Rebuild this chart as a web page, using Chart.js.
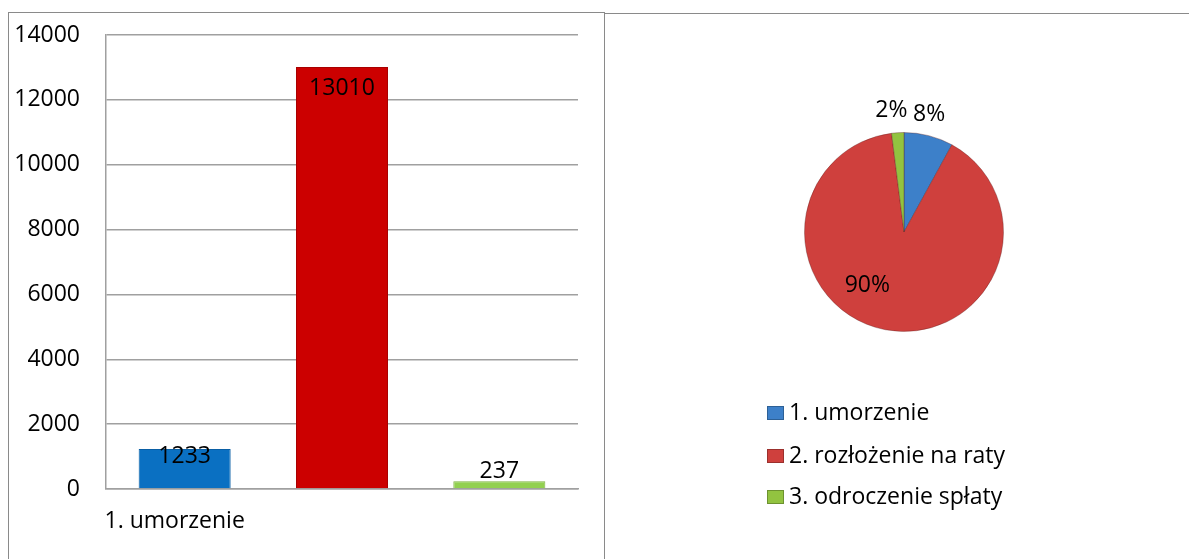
<!DOCTYPE html>
<html><head><meta charset="utf-8">
<script src="https://cdn.jsdelivr.net/npm/chart.js@4.4.0/dist/chart.umd.min.js"></script>
<style>
html,body{margin:0;padding:0;background:#fff;}
body{width:1189px;height:559px;overflow:hidden;position:relative;font-family:"Open Sans",sans-serif}
#box1{position:absolute;left:8px;top:12px;width:597px;height:600px;border:1.5px solid #8a8a8a;box-sizing:border-box}
#box2{position:absolute;left:604px;top:13px;width:700px;height:600px;border-top:1.5px solid #8a8a8a;box-sizing:border-box}
#w1{position:absolute;left:0;top:0;width:605px;height:559px}
#w2{position:absolute;left:605px;top:0;width:584px;height:559px}
</style></head>
<body>
<div id="box1"></div><div id="box2"></div>
<div id="w1"><canvas id="c1" width="605" height="559"></canvas></div>
<div id="w2"><canvas id="c2" width="584" height="559"></canvas></div>
<script>
// ---- data ----
const categories = ["1. umorzenie", "2. rozłożenie na raty", "3. odroczenie spłaty"];
const counts = [1233, 13010, 237];
const pieShares = [8, 90, 2];
const pieLabels = ["8%", "90%", "2%"];
const yTicks = [0, 2000, 4000, 6000, 8000, 10000, 12000, 14000];

const FONT = "'Open Sans'";
const FS = 23;
const barColors = ["#0a70c2", "#cc0000", "#92d050"];
const pieColors = ["#3d80c9", "#cf403d", "#92c340"];

// ---- bar value labels ----
const barLabelPlugin = {
  id: "barLabels",
  afterDatasetsDraw(chart) {
    const ctx = chart.ctx;
    const meta = chart.getDatasetMeta(0);
    ctx.save();
    ctx.font = FS + "px " + FONT;
    ctx.fillStyle = "#000";
    ctx.textAlign = "center";
    ctx.textBaseline = "middle";
    meta.data.forEach((bar, i) => {
      const h = bar.base - bar.y;
      let y;
      if (h < 25) y = bar.y - 10;
      else y = bar.y + Math.min(21, h * 0.2);
      ctx.fillText(String(counts[i]), bar.x, y);
    });
    ctx.restore();
  }
};

new Chart(document.getElementById("c1"), {
  type: "bar",
  data: {
    labels: categories,
    datasets: [{
      data: counts,
      backgroundColor: barColors,
      borderColor: ["#0a5fa5", "#a80000", "#7fb340"],
      borderWidth: 1,
      categoryPercentage: 1,
      barPercentage: 0.585
    }]
  },
  options: {
    responsive: false,
    animation: false,
    layout: { padding: { top: 35, right: 27, left: 0, bottom: 0 } },
    plugins: { legend: { display: false }, tooltip: { enabled: false } },
    scales: {
      x: {
        grid: { display: false, drawTicks: false },
        border: { display: true, color: "#a0a0a0", width: 1.5 },
        ticks: {
          autoSkip: false, maxRotation: 0, minRotation: 0, padding: 19, labelOffset: -10,
          color: "#000", font: { family: FONT, size: FS },
          callback: function (v, i) { return i === 0 ? categories[i] : ""; }
        },
        afterFit(s) { s.height = 70; }
      },
      y: {
        min: 0, max: 14000,
        afterBuildTicks(s) { s.ticks = yTicks.map(v => ({ value: v })); },
        grid: { color: "#a0a0a0", lineWidth: 1.5, drawTicks: true, tickLength: 26, tickColor: "rgba(0,0,0,0)" },
        border: { display: true, color: "#a0a0a0", width: 1.5 },
        ticks: {
          padding: 0, color: "#000", font: { family: FONT, size: FS },
          callback: function (v) { return String(v); }
        },
        afterFit(s) { s.width = 106; }
      }
    }
  },
  plugins: [barLabelPlugin]
});

// ---- pie labels + legend ----
const pieExtras = {
  id: "pieExtras",
  afterDatasetsDraw(chart) {
    const ctx = chart.ctx;
    const meta = chart.getDatasetMeta(0);
    ctx.save();
    ctx.font = FS + "px " + FONT;
    ctx.fillStyle = "#000";
    ctx.textAlign = "center";
    ctx.textBaseline = "middle";
    meta.data.forEach((arc, i) => {
      let mid = (arc.startAngle + arc.endAngle) / 2;
      const R = arc.outerRadius;
      const share = pieShares[i];
      let r = R * 1.22;
      if (share > 50) { r = R * 0.62; mid += 0.35; }
      ctx.fillText(pieLabels[i], arc.x + Math.cos(mid) * r - 5, arc.y + Math.sin(mid) * r);
    });
    // legend
    const x0 = 162, ys = [413, 456, 497];
    categories.forEach((c, i) => {
      const y = ys[i];
      ctx.fillStyle = pieColors[i];
      ctx.fillRect(x0, y - 7, 17, 14);
      ctx.strokeStyle = "rgba(0,0,0,0.25)";
      ctx.lineWidth = 1;
      ctx.strokeRect(x0 + 0.5, y - 6.5, 16, 13);
      ctx.fillStyle = "#000";
      ctx.textAlign = "left";
      ctx.fillText(c, x0 + 22, y);
    });
    ctx.restore();
  }
};

new Chart(document.getElementById("c2"), {
  type: "pie",
  data: {
    labels: categories,
    datasets: [{
      data: pieShares,
      backgroundColor: pieColors,
      borderColor: "rgba(90,30,30,0.35)",
      borderWidth: 1
    }]
  },
  options: {
    responsive: false,
    animation: false,
    layout: { padding: { left: 199, right: 185, top: 132, bottom: 227 } },
    plugins: { legend: { display: false }, tooltip: { enabled: false } }
  },
  plugins: [pieExtras]
});
</script>
</body></html>
